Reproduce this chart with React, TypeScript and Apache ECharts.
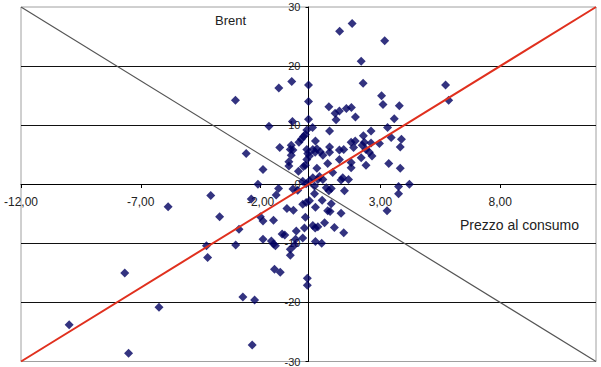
import React, { useEffect, useRef } from "react";
import * as echarts from "echarts";

const xValues: number[] = [
  1.30, 1.82, 3.18, 2.20, 2.28, -0.70, -1.24, 0.00, -3.05, 0.00,
  3.05, 3.11, 0.85, 1.11, 1.29, 1.58, 1.79, 1.96, 1.15, 3.79,
  3.58, 0.00, -0.67, -1.65, 5.72, 5.85, 0.17, 0.88, 2.61, 3.30,
  3.88, 3.45, -0.07, -0.13, -0.21, -0.30, -0.40, 0.29, -1.20, -0.72,
  -0.76, -0.65, -2.60, -1.90, -0.82, -0.82, -0.42, -0.21, -0.13, -0.07,
  -0.03, 0.04, -0.07, 0.18, 0.35, 0.28, 0.49, 0.60, 0.88, 0.88,
  1.29, 1.47, 1.78, 1.95, 1.88, 2.29, 2.33, 2.24, 2.61, 2.40,
  2.54, 2.65, 2.96, 2.20, 1.29, 1.78, 1.78, 0.80, 0.35, 2.40,
  3.35, 3.83, 3.83, -0.72, 1.01, 1.43, 0.46, 0.18, 0.39, 0.60,
  1.36, 1.67, -0.24, 0.04, -0.10, -2.11, -4.08, -1.25, -1.35, -0.65,
  -0.45, 0.25, 0.74, 0.95, 0.85, 1.50, 0.25, 0.57, 0.95, 0.80,
  0.90, 0.29, -0.24, -0.10, 0.04, -0.90, -0.63, 1.36, -2.39, 3.76,
  4.21, 3.76, 3.28, -3.71, -2.01, -1.90, -2.90, -1.46, -0.13, 0.67,
  0.18, 0.28, 0.39, -0.17, 1.08, 1.47, -0.51, -0.54, -1.10, -0.99,
  -0.24, -1.90, -1.55, -1.46, -1.38, -3.04, -4.26, -4.21, 0.29, 0.55,
  -0.58, -0.76, -0.76, -1.42, -1.18, -0.05, -0.05, -2.74, -2.25, -2.35,
  -7.67, -6.24, -9.99, -7.51, -5.86,
];

const yValues: number[] = [
  25.9, 27.2, 24.3, 20.8, 17.1, 17.4, 16.3, 16.8, 14.2, 14.0,
  15.0, 13.5, 13.1, 12.0, 12.4, 12.8, 13.0, 11.4, 10.9, 13.3,
  11.1, 11.0, 10.6, 9.8, 16.8, 14.2, 9.6, 9.0, 9.0, 9.6,
  7.6, 7.9, 9.2, 8.4, 8.1, 7.6, 7.1, 7.3, 6.2, 6.6,
  5.9, 5.8, 5.2, 2.5, 3.8, 3.1, 2.2, 3.0, 3.2, 5.9,
  5.2, 4.8, 4.2, 5.9, 6.0, 5.4, 5.5, 4.9, 6.3, 5.4,
  5.8, 5.9, 7.1, 7.3, 6.2, 8.2, 7.1, 6.6, 7.0, 5.9,
  5.4, 4.8, 6.9, 4.5, 4.2, 3.7, 2.8, 3.5, 2.7, 3.2,
  3.5, 6.3, 2.7, 4.9, 2.0, 1.1, 1.3, 1.1, 0.8, 0.8,
  0.7, 0.8, 0.5, 0.6, 0.1, 0.0, -1.9, -0.7, -1.8, -0.8,
  -1.0, -0.3, -0.6, -0.7, -1.1, -1.1, -1.6, -2.7, -3.3, -4.5,
  -4.6, -3.9, -3.4, -3.1, -2.8, -4.1, -4.4, -4.9, -2.5, -0.4,
  0.0, -1.6, -4.5, -5.5, -5.5, -6.2, -7.6, -6.1, -5.6, -6.5,
  -7.0, -7.4, -7.2, -7.4, -7.3, -8.2, -7.9, -9.3, -8.4, -8.6,
  -9.1, -9.3, -9.6, -10.1, -10.4, -10.3, -10.4, -12.4, -9.7, -10.0,
  -10.3, -11.0, -12.0, -14.4, -14.9, -15.9, -17.1, -19.1, -19.6, -27.2,
  -15.0, -20.8, -23.8, -28.6, -3.8,
];

// reference lines: [x, y] endpoints
const redLineX: number[] = [-12, 12];
const redLineY: number[] = [-30, 30];
const grayLineX: number[] = [-12, 12];
const grayLineY: number[] = [30, -30];

const xMin = -12;
const xMax = 12;
const xInterval = 5;
const yMin = -30;
const yMax = 30;
const yInterval = 10;

const xTitle = "Prezzo al consumo";
const yTitle = "Brent";

const FONT = "'Liberation Sans', Arial, sans-serif";

const GRID_LEFT = 21;
const GRID_TOP = 7;
const GRID_W = 575;
const GRID_H = 355;

export default function App() {
  const ref = useRef<HTMLDivElement>(null);

  useEffect(() => {
    if (!ref.current) return;
    const chart = echarts.init(ref.current, undefined, { renderer: "svg" });
    const points = xValues.map((x, i) => [x, yValues[i]]);
    const red = redLineX.map((x, i) => [x, redLineY[i]]);
    const gray = grayLineX.map((x, i) => [x, grayLineY[i]]);

    // axes cross at zero: shift them from the grid edges to the origin
    const xZeroOffset = -(GRID_W * (0 - xMin)) / (xMax - xMin);
    const yZeroOffset = -(GRID_H * (0 - yMin)) / (yMax - yMin);

    chart.setOption({
      animation: false,
      backgroundColor: "#ffffff",
      grid: {
        left: GRID_LEFT,
        top: GRID_TOP,
        width: GRID_W,
        height: GRID_H,
        show: true,
        borderColor: "#a0a0a0",
        borderWidth: 1,
        backgroundColor: "transparent",
      },
      xAxis: {
        type: "value",
        position: "bottom",
        offset: yZeroOffset,
        min: xMin,
        max: xMax,
        interval: xInterval,
        axisLine: { onZero: false, lineStyle: { color: "#000000", width: 1 } },
        axisTick: { show: true, length: 4, lineStyle: { color: "#000000" } },
        axisLabel: {
          showMaxLabel: false,
          margin: 12,
          color: "#222222",
          fontSize: 12,
          fontFamily: FONT,
          formatter: (v: number) => v.toFixed(2).replace(".", ","),
        },
        splitLine: { show: false },
      },
      yAxis: {
        type: "value",
        position: "left",
        offset: xZeroOffset,
        min: yMin,
        max: yMax,
        interval: yInterval,
        axisLine: { onZero: false, lineStyle: { color: "#000000", width: 1 } },
        axisTick: { show: true, length: 3, lineStyle: { color: "#000000" } },
        axisLabel: {
          margin: 8,
          color: "#222222",
          fontSize: 11,
          fontFamily: FONT,
          showMinLabel: true,
          showMaxLabel: true,
        },
        splitLine: {
          show: true,
          showMinLine: false,
          showMaxLine: false,
          lineStyle: { color: "#111111", width: 1 },
        },
      },
      series: [
        {
          type: "line",
          data: gray,
          symbol: "none",
          lineStyle: { color: "#555555", width: 1.2 },
          silent: true,
          z: 1,
        },
        {
          type: "scatter",
          data: points,
          symbol: "diamond",
          symbolSize: 9,
          itemStyle: { color: "#000060" },
          z: 2,
        },
        {
          type: "line",
          data: red,
          symbol: "none",
          lineStyle: { color: "#e0301e", width: 2 },
          silent: true,
          z: 3,
        },
      ],
      graphic: [
        {
          type: "text",
          left: 215,
          top: 14,
          style: { text: yTitle, fontSize: 13, fontFamily: FONT, fill: "#222222" },
        },
        {
          type: "text",
          left: 460,
          top: 218,
          style: { text: xTitle, fontSize: 14, fontFamily: FONT, fill: "#222222" },
        },
      ],
    });

    return () => chart.dispose();
  }, []);

  return (
    <div
      ref={ref}
      style={{ position: "fixed", left: 0, top: 0, width: 601, height: 367, background: "#fff" }}
    />
  );
}
